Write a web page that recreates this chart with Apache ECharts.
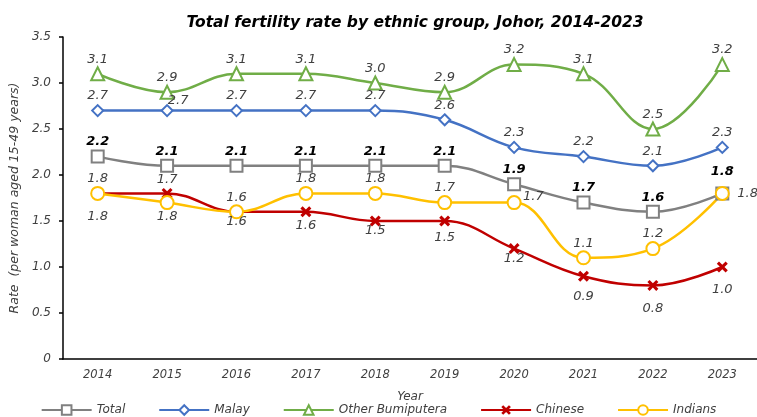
<!DOCTYPE html>
<html>
<head>
<meta charset="utf-8">
<script src="https://cdn.jsdelivr.net/npm/echarts@6/dist/echarts.min.js"></script>
<style>
html,body{margin:0;padding:0;background:#fff;}
#chart{width:757px;height:417px;}
</style>
</head>
<body>
<div id="chart"></div>
<script>
const years = ['2014','2015','2016','2017','2018','2019','2020','2021','2022','2023'];
const total = [2.2, 2.1, 2.1, 2.1, 2.1, 2.1, 1.9, 1.7, 1.6, 1.8];
const malay = [2.7, 2.7, 2.7, 2.7, 2.7, 2.6, 2.3, 2.2, 2.1, 2.3];
const otherBumiputera = [3.1, 2.9, 3.1, 3.1, 3.0, 2.9, 3.2, 3.1, 2.5, 3.2];
const chinese = [1.8, 1.8, 1.6, 1.6, 1.5, 1.5, 1.2, 0.9, 0.8, 1.0];
const indians = [1.8, 1.7, 1.6, 1.8, 1.8, 1.7, 1.7, 1.1, 1.2, 1.8];
const yTicks = [0, 0.5, 1.0, 1.5, 2.0, 2.5, 3.0, 3.5];

const FONT = 'DejaVu Sans';
const labelGrey = '#404040';

// label style overrides (by index) kept apart from the data
const labelOverrides = {
  total: {9: {offset: [0, -7]}},
  malay: {1: {offset: [11, 5]}},
  other: {},
  chinese: {0:{offset:[0,9]},1:{offset:[0,9]},2:{offset:[0,-4]},4:{offset:[0,-4]},5:{offset:[0,3]},6:{offset:[0,-4]},7:{offset:[0,6]},8:{offset:[0,9]},9:{offset:[0,9]}},
  indians: {1: {offset: [0, -8]}, 6: {position: 'right', distance: 1.5, offset: [0, -6]}, 9: {position: 'right', distance: 7.5}}
};

function build(arr, key) {
  const ov = labelOverrides[key];
  return arr.map((v, i) => ov[i] ? {value: v, label: ov[i]} : v);
}

const xMark = 'path://M2,0 L5,3 L8,0 L10,2 L7,5 L10,8 L8,10 L5,7 L2,10 L0,8 L3,5 L0,2 Z';

function series(name, key, arr, color, symbol, size, labelPos, labelDist, bold) {
  return {
    name: name,
    type: 'line',
    data: build(arr, key),
    smooth: 0.4,
    symbol: symbol,
    symbolSize: size,
    showAllSymbol: true,
    lineStyle: {color: color, width: 2.5},
    itemStyle: symbol.indexOf('path://') === 0 ? {color: color} : {color: color, borderColor: color, borderWidth: 2.5},
    label: {
      show: true,
      position: labelPos,
      distance: labelDist,
      fontFamily: FONT,
      fontSize: 13,
      fontStyle: 'italic',
      fontWeight: bold ? 'bold' : 'normal',
      color: bold ? '#000' : labelGrey,
      formatter: p => Number(p.value).toFixed(1)
    },
    emphasis: {disabled: true}
  };
}

const chart = echarts.init(document.getElementById('chart'), null, {renderer: 'canvas'});
chart.setOption({
  animation: false,
  backgroundColor: '#fff',
  title: {
    text: 'Total fertility rate by ethnic group, Johor, 2014-2023',
    left: 410, top: 10, textAlign: 'center',
    textStyle: {fontFamily: FONT, fontSize: 15.5, fontWeight: 'bold', fontStyle: 'italic', color: '#000'}
  },
  legend: {
    left: 'center', top: 399,
    itemWidth: 50, itemHeight: 12, itemGap: 33,
    textStyle: {fontFamily: FONT, fontSize: 12, fontStyle: 'italic', color: labelGrey},
    data: ['Total','Malay','Other Bumiputera','Chinese','Indians']
  },
  grid: {left: 62, right: -2, top: 37, bottom: 58, containLabel: false},
  xAxis: {
    type: 'category',
    data: years,
    boundaryGap: true,
    name: 'Year', nameLocation: 'middle', nameGap: 32,
    nameTextStyle: {fontFamily: FONT, fontSize: 12, fontStyle: 'italic', color: labelGrey},
    axisLine: {lineStyle: {color: '#000', width: 1.5}},
    axisTick: {alignWithLabel: true, length: 4, lineStyle: {color: '#000', width: 1.5}},
    axisLabel: {fontFamily: FONT, fontSize: 11.5, fontStyle: 'italic', color: labelGrey, margin: 10}
  },
  yAxis: {
    type: 'value', min: 0, max: 3.5, interval: 0.5,
    name: 'Rate  (per woman aged 15-49 years)', nameLocation: 'middle', nameGap: 38,
    nameTextStyle: {fontFamily: FONT, fontSize: 12.5, fontStyle: 'italic', color: labelGrey},
    axisLine: {show: true, lineStyle: {color: '#000', width: 1.5}},
    axisTick: {show: true, length: 4, lineStyle: {color: '#000', width: 1.5}},
    splitLine: {show: false},
    axisLabel: {fontFamily: FONT, fontSize: 12, fontStyle: 'italic', color: labelGrey, margin: 12,
      formatter: v => { const t = yTicks.find(x => Math.abs(x - v) < 1e-9); return t === 0 ? '0' : Number(v).toFixed(1); }}
  },
  series: [
    series('Total', 'total', total, '#808080', 'emptyRect', 12, 'top', 1, true),
    series('Malay', 'malay', malay, '#4472C4', 'emptyDiamond', 11, 'top', 1.5, false),
    series('Other Bumiputera', 'other', otherBumiputera, '#70AD47', 'emptyTriangle', 13, 'top', 0.5, false),
    series('Chinese', 'chinese', chinese, '#C00000', xMark, 11, 'bottom', 2, false),
    series('Indians', 'indians', indians, '#FFC000', 'emptyCircle', 13, 'top', 0.5, false)
  ]
});
</script>
</body>
</html>
